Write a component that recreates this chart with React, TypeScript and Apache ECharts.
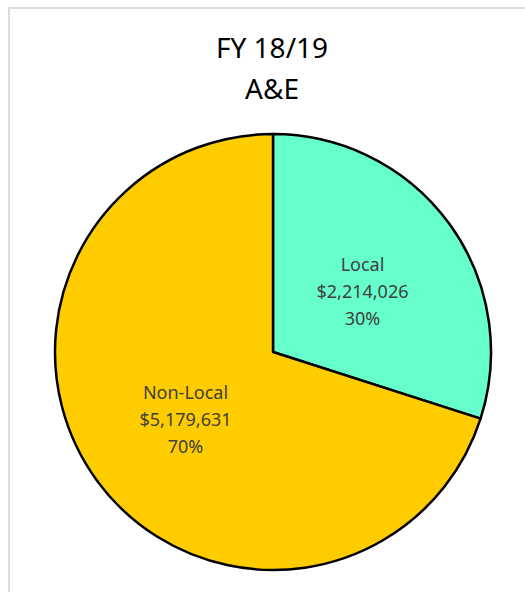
import React, { useEffect, useRef } from "react";
import * as echarts from "echarts";

const categories = ["Local", "Non-Local"];
const values = [2214026, 5179631];
const colors = ["#66FFCC", "#FFCC00"];
const titleLines = ["FY 18/19", "A&E"];

export default function App() {
  const ref = useRef<HTMLDivElement>(null);
  useEffect(() => {
    if (!ref.current) return;
    const chart = echarts.init(ref.current, undefined, { renderer: "svg" });
    const labelOffsets = [
      [-1, 5],
      [3, 1],
    ];
    chart.setOption({
      animation: false,
      backgroundColor: "#ffffff",
      graphic: [
        {
          type: "rect",
          shape: { x: 9, y: 8, width: 700, height: 800 },
          style: { fill: "none", stroke: "#dcdcdc", lineWidth: 2 },
          silent: true,
          z: 0,
        },
        {
          type: "text",
          x: 272,
          y: 67,
          style: {
            text: titleLines.join("\n"),
            fontFamily: "Noto Sans",
            fontSize: 28,
            lineHeight: 41,
            fill: "#000000",
            textAlign: "center",
            textVerticalAlign: "middle",
          },
          z: 10,
        },
      ],
      series: [
        {
          type: "pie",
          center: [273, 352],
          radius: 218,
          startAngle: 90,
          clockwise: true,
          data: categories.map((name, i) => ({
            name,
            value: values[i],
            itemStyle: { color: colors[i] },
            label: { offset: labelOffsets[i] },
          })),
          itemStyle: { borderColor: "#000000", borderWidth: 2.5 },
          label: {
            show: true,
            position: "inside",
            formatter: (p: any) =>
              `${p.name}\n$${Number(p.value).toLocaleString("en-US")}\n${Math.round(p.percent)}%`,
            fontFamily: "Noto Sans",
            fontSize: 18,
            lineHeight: 27,
            color: "#404040",
            align: "center",
          },
          labelLine: { show: false },
          emphasis: { disabled: true },
        },
      ],
    });
    return () => chart.dispose();
  }, []);
  return (
    <div
      ref={ref}
      style={{ position: "absolute", left: 0, top: 0, width: 525, height: 592 }}
    />
  );
}
